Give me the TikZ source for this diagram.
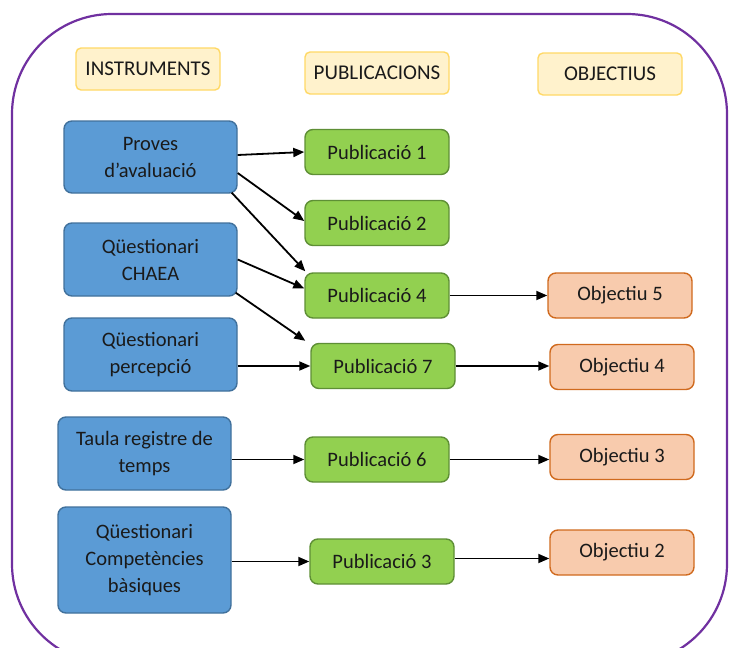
\documentclass[tikz,border=0pt]{standalone}
\usepackage{fontspec}
\setmainfont{Carlito}
\usetikzlibrary{arrows.meta}
\definecolor{framepurple}{HTML}{7030A0}
\definecolor{hdrfill}{HTML}{FFF2CC}
\definecolor{hdrline}{HTML}{FFD966}
\definecolor{instfill}{HTML}{5B9BD5}
\definecolor{instline}{HTML}{41719C}
\definecolor{pubfill}{HTML}{92D050}
\definecolor{publine}{HTML}{5E8F35}
\definecolor{objfill}{HTML}{F8CBAD}
\definecolor{objline}{HTML}{D06A1E}
\definecolor{txt}{HTML}{1A1A1A}
\tikzset{
  box/.style={rounded corners=8pt, line width=1.4pt, align=center, inner sep=0pt,
    text=txt, font=\fontsize{20.5}{27}\selectfont},
  hdrbox/.style={box, fill=hdrfill, draw=hdrline, minimum width=144pt, minimum height=42pt,
    rounded corners=5pt, font=\fontsize{21}{24}\selectfont},
  instbox/.style={box, fill=instfill, draw=instline, minimum width=173pt},
  pubbox/.style={box, fill=pubfill, draw=publine, minimum width=144pt, minimum height=45pt},
  objbox/.style={box, fill=objfill, draw=objline, minimum width=144pt, minimum height=45pt},
  link/.style={line width=1.8pt, black, -{Triangle[length=11pt,width=9pt]}}
}
\begin{document}
\begin{tikzpicture}[x=1pt,y=-1pt]
\useasboundingbox (0,0) rectangle (729,648);
\fill[white] (0,0) rectangle (729,648);
% outer frame, partly running off the page
\begin{scope}
  \clip (0,0) rectangle (729,648);
  \draw[framepurple, line width=2.2pt, rounded corners=100pt] (12,14) rectangle (727,664);
\end{scope}

% column headers
\node[hdrbox] (hins) at (148,69) {INSTRUMENTS};
\node[hdrbox] (hpub) at (377,73) {PUBLICACIONS};
\node[hdrbox] (hobj) at (610,74) {OBJECTIUS};

% instruments
\node[instbox, minimum height=72pt] (prov) at (150.5,157) {Proves\\d’avaluació};
\node[instbox, minimum height=73pt] (chaea) at (150.5,259.5) {Qüestionari\\CHAEA};
\node[instbox, minimum height=73pt] (perc) at (150.5,354.5) {Qüestionari\\percepció};
\node[instbox, minimum height=73pt] (taula) at (144.5,453.5) {Taula registre de\\temps};
\node[instbox, minimum height=106pt] (comp) at (144.5,560) {Qüestionari\\Competències\\bàsiques};

% publications
\node[pubbox] (p1) at (377,152) {Publicació 1};
\node[pubbox] (p2) at (377,223) {Publicació 2};
\node[pubbox] (p4) at (377,295.5) {Publicació 4};
\node[pubbox] (p7) at (383,366) {Publicació 7};
\node[pubbox] (p6) at (377,459.5) {Publicació 6};
\node[pubbox] (p3) at (382,561.5) {Publicació 3};

% objectives
\node[objbox] (o5) at (620,295.5) {Objectiu 5};
\node[objbox] (o4) at (622,367) {Objectiu 4};
\node[objbox] (o3) at (622,457) {Objectiu 3};
\node[objbox] (o2) at (622,552.5) {Objectiu 2};

% instruments -> publications
\draw[link] ([yshift=2pt]prov.east) -- (p1.west);
\draw[link] ([yshift=-16pt]prov.east) -- ([yshift=2pt]p2.west);
\draw[link] ([xshift=-6pt,yshift=1pt]prov.south east) -- ([xshift=1pt,yshift=1pt]p4.north west);
\draw[link] (chaea.east) -- ([yshift=7pt]p4.west);
\draw[link] ([xshift=-2pt,yshift=4pt]chaea.south east) -- ([xshift=-5pt,yshift=2pt]p7.north west);
\draw[link] (perc.east |- p7.west) -- (p7.west);
\draw[link] (taula.east |- p6.west) -- (p6.west);
\draw[link] (comp.east |- p3.west) -- (p3.west);

% publications -> objectives
\draw[link] (p4.east) -- (o5.west);
\draw[link] (p7.east) -- (p7.east -| o4.west);
\draw[link] (p6.east) -- (p6.east -| o3.west);
\draw[link] ([yshift=3pt]p3.east) -- ([yshift=3pt]p3.east -| o2.west);
\end{tikzpicture}
\end{document}
